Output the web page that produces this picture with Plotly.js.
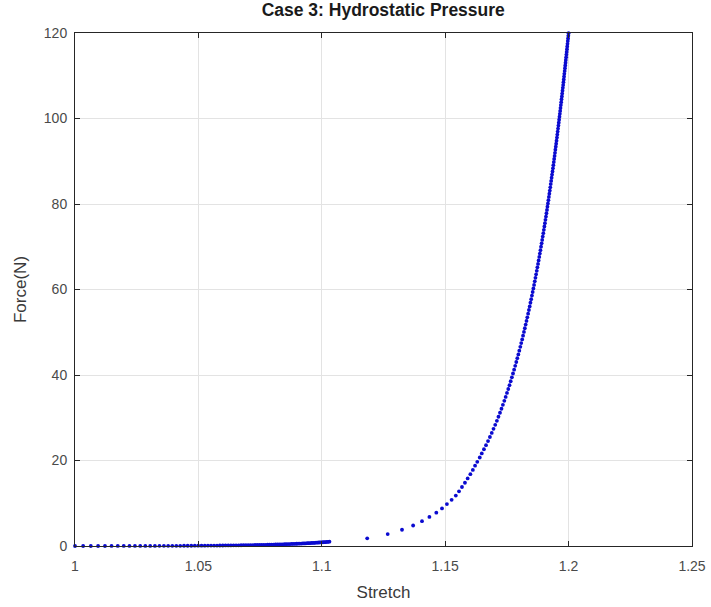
<!DOCTYPE html>
<html>
<head>
<meta charset="utf-8">
<script src="https://cdn.plot.ly/plotly-3.0.1.min.js"></script>
<style>html,body{margin:0;padding:0;background:#fff;}#chart{width:711px;height:607px;}</style>
</head>
<body>
<div id="chart"></div>
<script>
// Lower branch (dense dots near zero force)
const lowerStretch = [1.00000,1.00330,1.00641,1.00935,1.01214,1.01480,1.01733,1.01975,1.02207,1.02429,
  1.02643,1.02849,1.03047,1.03238,1.03423,1.03602,1.03775,1.03942,1.04105,1.04263,
  1.04417,1.04566,1.04712,1.04853,1.04991,1.05126,1.05258,1.05386,1.05511,1.05634,
  1.05754,1.05871,1.05986,1.06098,1.06209,1.06317,1.06423,1.06526,1.06629,1.06729,
  1.06827,1.06924,1.07018,1.07112,1.07204,1.07294,1.07382,1.07470,1.07556,1.07640,
  1.07724,1.07806,1.07887,1.07966,1.08045,1.08122,1.08199,1.08274,1.08348,1.08421,
  1.08494,1.08565,1.08636,1.08705,1.08774,1.08841,1.08908,1.08975,1.09040,1.09105,
  1.09169,1.09232,1.09294,1.09356,1.09417,1.09477,1.09537,1.09596,1.09654,1.09712,
  1.09769,1.09826,1.09882,1.09937,1.09992,1.10046,1.10100,1.10153,1.10206,1.10258,1.10310];
const lowerForce = [0,0.0013,0.0026,0.0041,0.0057,0.0075,0.0094,0.0115,0.0137,0.0160,
  0.0185,0.0212,0.0240,0.0270,0.0302,0.0335,0.0371,0.0408,0.0446,0.0487,
  0.0530,0.0575,0.0621,0.0670,0.0720,0.0773,0.0828,0.0885,0.0944,0.1006,
  0.1069,0.1135,0.1203,0.1274,0.1347,0.1422,0.1500,0.1580,0.1662,0.1747,
  0.1835,0.1925,0.2018,0.2113,0.2211,0.2312,0.2415,0.2521,0.2630,0.2741,
  0.2856,0.2973,0.3093,0.3216,0.3342,0.3471,0.3602,0.3737,0.3875,0.4015,
  0.4159,0.4306,0.4456,0.4609,0.4765,0.4924,0.5087,0.5253,0.5422,0.5594,
  0.5770,0.5949,0.6131,0.6317,0.6506,0.6699,0.6894,0.7094,0.7296,0.7502,
  0.7713,0.7926,0.8143,0.8363,0.8588,0.8815,0.9047,0.9281,0.9520,0.9763,1.0010];

// Upper branch (steep rise)
const upperStretch = [1.1184,1.1267,1.1325,1.1370,1.1406,1.1436,1.1464,1.1487,1.1507,1.1526,1.1543,1.1556,
  1.1568,1.1580,1.1591,1.1602,1.1612,1.1621,1.1630,1.1640,
  1.16482,1.16570,1.16654,1.16735,1.16811,1.16886,1.16957,1.17027,1.17093,1.17158,
  1.17220,1.17280,1.17338,1.17395,1.17450,1.17503,1.17555,1.17605,1.17654,1.17702,1.17748,
  1.17793,1.17837,1.17880,1.17922,1.17964,1.18003,1.18043,1.18081,1.18119,1.18155,1.18191,
  1.18226,1.18260,1.18294,1.18327,1.18360,1.18392,1.18423,1.18454,1.18485,1.18514,1.18544,1.18573,
  1.18601,1.18629,1.18656,1.18683,1.18709,1.18735,1.18761,1.18786,1.18811,1.18835,1.18859,1.18883,
  1.18907,1.18930,1.18952,1.18975,1.18997,1.19019,1.19040,1.19061,1.19082,1.19103,1.19123,1.19143,1.19162,
  1.19182,1.19201,1.19220,1.19239,1.19258,1.19276,1.19294,1.19312,1.19330,1.19348,1.19365,1.19382,1.19399,1.19415,
  1.19432,1.19448,1.19464,1.19480,1.19496,1.19511,1.19527,1.19542,1.19557,1.19572,1.19587,1.19601,1.19616,1.19630,
  1.19645,1.19659,1.19672,1.19686,1.19700,1.19713,1.19727,1.19740,1.19753,1.19766,1.19779,1.19791,1.19804,1.19816,1.19827,
  1.19840,1.19852,1.19864,1.19876,1.19887,1.19899,1.19910,1.19922,1.19933,1.19944,1.19956,1.19967,1.19978,1.19988,1.19999];
const upperForce = [1.8,2.8,3.8,4.8,5.8,6.8,7.8,8.8,9.8,10.8,11.8,12.8,
  13.8,14.8,15.8,16.8,17.8,18.8,19.7,20.7,
  21.66,22.63,23.59,24.55,25.5,26.45,27.4,28.35,29.29,30.23,
  31.17,32.1,33.03,33.96,34.88,35.8,36.72,37.63,38.54,39.45,40.35,
  41.25,42.15,43.04,43.93,44.82,45.7,46.58,47.46,48.33,49.2,50.07,
  50.93,51.79,52.65,53.5,54.35,55.2,56.05,56.9,57.74,58.58,59.42,60.25,
  61.08,61.91,62.73,63.55,64.37,65.18,65.99,66.8,67.61,68.41,69.21,70.01,
  70.8,71.59,72.38,73.17,73.96,74.74,75.52,76.3,77.07,77.84,78.61,79.37,80.13,
  80.89,81.65,82.4,83.15,83.9,84.65,85.4,86.14,86.88,87.62,88.35,89.08,89.81,90.53,
  91.25,91.97,92.69,93.4,94.11,94.82,95.53,96.24,96.94,97.64,98.34,99.03,99.72,100.41,
  101.1,101.78,102.46,103.14,103.82,104.5,105.17,105.84,106.51,107.17,107.83,108.49,109.15,109.8,110.45,
  111.1,111.75,112.4,113.04,113.68,114.32,114.95,115.58,116.21,116.84,117.47,118.1,118.72,119.34,119.96];

const xTicks = [1, 1.05, 1.1, 1.15, 1.2, 1.25];
const yTicks = [0, 20, 40, 60, 80, 100, 120];

const markerStyle = {color: '#0a0ad0', size: 3.8};
const traces = [
  {x: lowerStretch, y: lowerForce, type: 'scatter', mode: 'markers', marker: markerStyle, cliponaxis: false, hoverinfo: 'skip'},
  {x: upperStretch, y: upperForce, type: 'scatter', mode: 'markers', marker: markerStyle, cliponaxis: false, hoverinfo: 'skip'}
];

const FONT = 'Liberation Sans, Arial, sans-serif';
const axisCommon = {
  showgrid: true, gridcolor: '#e3e3e3', gridwidth: 1,
  showline: true, linecolor: '#262626', linewidth: 1, mirror: 'ticks',
  ticks: 'inside', ticklen: 5, tickcolor: '#262626',
  zeroline: false,
  tickfont: {family: FONT, size: 14, color: '#4a4a4a'}
};

const layout = {
  width: 711, height: 607,
  margin: {l: 75, r: 19, t: 33, b: 61},
  paper_bgcolor: '#ffffff', plot_bgcolor: '#ffffff',
  showlegend: false,
  title: {text: '<b>Case 3: Hydrostatic Pressure</b>', x: 0.539, xanchor: 'center', y: 0.994, yanchor: 'top',
          font: {family: FONT, size: 17.5, color: '#1a1a1a'}},
  xaxis: Object.assign({}, axisCommon, {
    range: [1, 1.25], tickvals: xTicks, ticktext: xTicks.map(String),
    ticklabelstandoff: 7,
    title: {text: 'Stretch', standoff: 13, font: {family: FONT, size: 17, color: '#3a3a3a'}}
  }),
  yaxis: Object.assign({}, axisCommon, {
    range: [0, 120], tickvals: yTicks, ticktext: yTicks.map(String),
    ticklabelstandoff: 4,
    title: {text: 'Force(N)', standoff: 12, font: {family: FONT, size: 17, color: '#3a3a3a'}}
  })
};

Plotly.newPlot('chart', traces, layout, {displayModeBar: false, staticPlot: true});
</script>
</body>
</html>
